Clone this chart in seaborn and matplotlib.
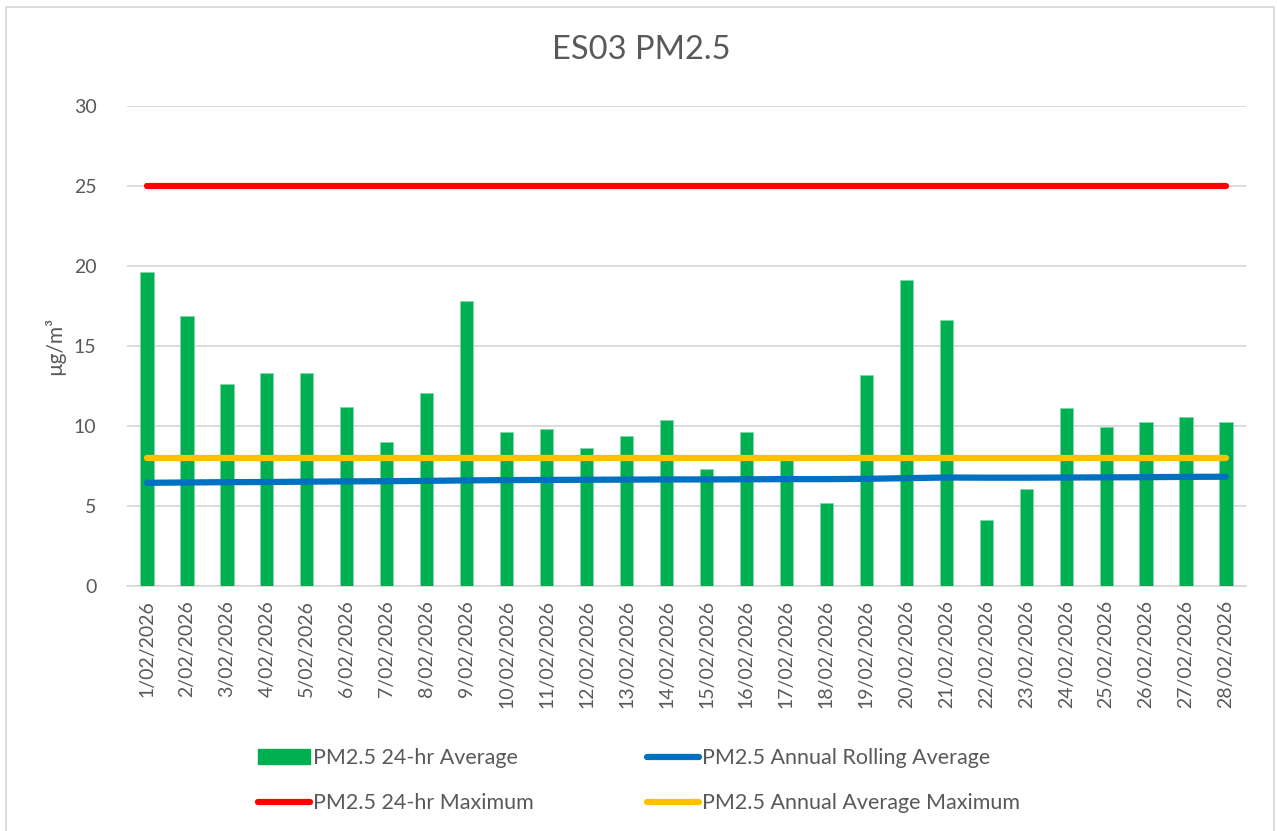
import numpy as np
import matplotlib
matplotlib.use("Agg")
import matplotlib.pyplot as plt
import seaborn as sns
from matplotlib.patches import Rectangle, Patch
from matplotlib.lines import Line2D

dates = [f"{d}/02/2026" for d in range(1, 29)]
pm25_24hr = [19.6, 16.9, 12.6, 13.3, 13.3, 11.2, 9.0, 12.05, 17.8, 9.6,
             9.8, 8.6, 9.4, 10.4, 7.3, 9.6, 7.9, 5.2, 13.2, 19.1,
             16.6, 4.1, 6.05, 11.13, 9.96, 10.25, 10.55, 10.25]
rolling_avg = [6.45, 6.47, 6.49, 6.50, 6.52, 6.54, 6.55, 6.57, 6.60, 6.62,
               6.63, 6.64, 6.65, 6.66, 6.66, 6.67, 6.68, 6.68, 6.70, 6.74,
               6.78, 6.77, 6.77, 6.78, 6.79, 6.80, 6.82, 6.83]
max_24hr = [25] * 28
annual_max = [8] * 28
yticks = [0, 5, 10, 15, 20, 25, 30]

GREEN = "#00B050"
RED = "#FF0000"
BLUE = "#0070C0"
YELLOW = "#FFC000"
GRID = "#D9D9D9"
TXT = "#595959"

sns.set_theme(style="white")
plt.rcParams["font.family"] = ["Lato", "DejaVu Sans"]

W, H = 1277, 831
fig = plt.figure(figsize=(W / 100, H / 100), dpi=100)
ax = fig.add_axes([127 / W, 1 - 586 / H, (1246 - 127) / W, (586 - 106) / H])

fig.patches.append(Rectangle((6 / W, -0.01), (1274 - 6) / W, (H - 7) / H + 0.01,
                             transform=fig.transFigure, fill=False,
                             edgecolor=GRID, linewidth=1.3, zorder=0))

sns.barplot(x=dates, y=pm25_24hr, color=GREEN, width=0.33, ax=ax,
            saturation=1, edgecolor="#7fd6a6", linewidth=0.6, zorder=3)

pos = np.arange(len(dates))
ax.plot(pos, max_24hr, color=RED, lw=4.5, solid_capstyle="round", zorder=4)
ax.plot(pos, rolling_avg, color=BLUE, lw=4.5, solid_capstyle="round", zorder=4)
ax.plot(pos, annual_max, color=YELLOW, lw=4.5, solid_capstyle="round", zorder=5)

ax.set_xlim(-0.5, len(dates) - 0.5)
ax.set_ylim(0, 30)
ax.set_yticks(yticks)
ax.set_yticklabels([str(v) for v in yticks], fontsize=14, color=TXT)
ax.yaxis.grid(True, color=GRID, linewidth=1.3)
ax.set_axisbelow(True)

ax.set_xticks(pos)
ax.set_xticklabels(dates, rotation=90, fontsize=14, color=TXT)
ax.set_xticks(np.arange(-0.5, len(dates)), minor=True)
ax.tick_params(axis="x", which="major", length=0, pad=10)
ax.tick_params(axis="x", which="minor", length=6, color=GRID, width=1.3, direction="out")
ax.tick_params(axis="y", length=0, pad=22)
ax.set_xlabel("")

for s in ["top", "right", "left"]:
    ax.spines[s].set_visible(False)
ax.spines["bottom"].set_color(GRID)
ax.spines["bottom"].set_linewidth(1.3)

ax.set_ylabel("µg/m³", fontsize=15, color=TXT, labelpad=6)
fig.text(641 / W, 1 - 50 / H, "ES03 PM2.5", ha="center", va="center",
         fontsize=23.5, color=TXT)

handles = [Patch(facecolor=GREEN, edgecolor=GREEN),
           Line2D([0], [0], color=RED, lw=4.5, solid_capstyle="round"),
           Line2D([0], [0], color=BLUE, lw=4.5, solid_capstyle="round"),
           Line2D([0], [0], color=YELLOW, lw=4.5, solid_capstyle="round")]
labels = ["PM2.5 24-hr Average", "PM2.5 24-hr Maximum",
          "PM2.5 Annual Rolling Average", "PM2.5 Annual Average Maximum"]
leg = fig.legend(handles, labels, ncol=2, loc="upper left",
                 bbox_to_anchor=(258 / W, 1 - 748 / H), frameon=False,
                 fontsize=15.5, handlelength=2.42, handleheight=0.65,
                 handletextpad=0.15, columnspacing=5.25, labelspacing=1.18,
                 borderpad=0, borderaxespad=0)
for t in leg.get_texts():
    t.set_color(TXT)

fig.savefig("out.png", dpi=100)
